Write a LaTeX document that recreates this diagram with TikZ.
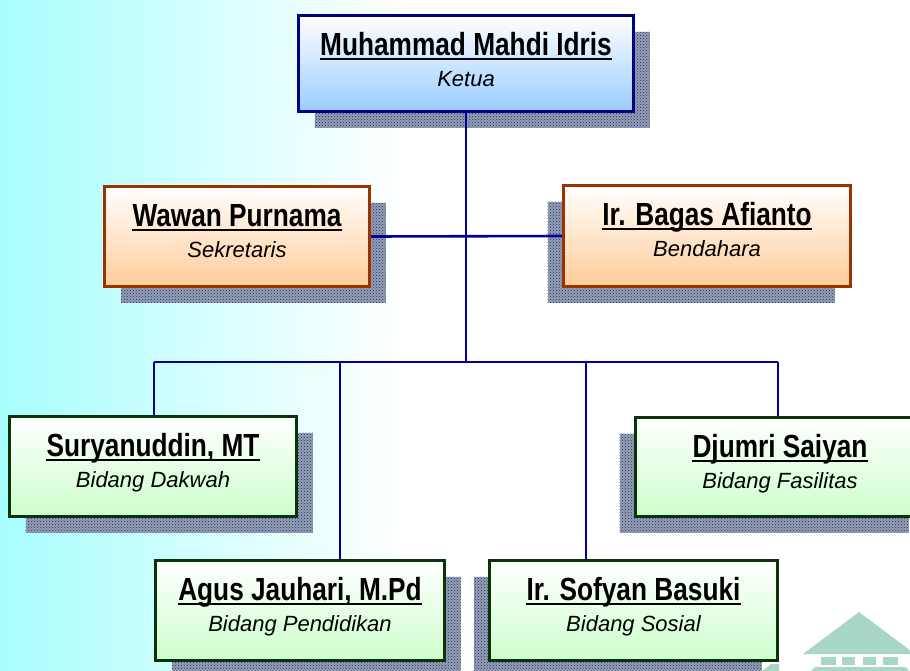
\documentclass[tikz,border=0pt]{standalone}
\usepackage{fontspec}
\setmainfont{Liberation Sans}
\newfontfamily\namefont{Liberation Sans}[FakeStretch=0.82]
\usetikzlibrary{calc,patterns}
\definecolor{navyline}{HTML}{000099}
\definecolor{topborder}{HTML}{000080}
\definecolor{topfill}{HTML}{99CCFF}
\definecolor{orgborder}{HTML}{993300}
\definecolor{orgfill}{HTML}{FFCC99}
\definecolor{grnborder}{HTML}{0A330A}
\definecolor{grnfill}{HTML}{CCFFCC}
\definecolor{shadbase}{HTML}{95A0B6}
\definecolor{shaddot}{HTML}{1E2C5C}
\definecolor{bgcyan}{HTML}{A8FEFE}
\definecolor{logoc}{HTML}{A8D6C8}
\pgfdeclarelayer{bgl}
\pgfdeclarelayer{shad}
\pgfdeclarelayer{conn}
\pgfsetlayers{bgl,shad,conn,main}
\tikzset{
  boxbase/.style={rectangle, line width=3pt, outer sep=0pt, inner sep=0pt},
  bluebox/.style={boxbase, draw=topborder, top color=white, bottom color=topfill},
  orangebox/.style={boxbase, draw=orgborder, top color=white, bottom color=orgfill},
  greenbox/.style={boxbase, draw=grnborder, top color=white, bottom color=grnfill},
  shadowfill/.style={fill=shadbase, postaction={pattern=crosshatch dots, pattern color=shaddot}},
  nametext/.style={anchor=base, inner sep=0pt, font=\namefont\bfseries\fontsize{32}{36}\selectfont},
  roletext/.style={anchor=base, inner sep=0pt, font=\itshape\fontsize{22}{26}\selectfont},
  uline/.style={line width=2.8pt, black},
  conline/.style={draw=navyline, line width=2.6pt},
}
% #1 id, #2 cx, #3 cy, #4 w, #5 h, #6 shadow dx, #7 style, #8 name, #9 role
\newcommand\OrgBox[9]{%
  \node[#7, minimum width=#4, minimum height=#5] (#1) at (#2,#3) {};
  \begin{pgfonlayer}{shad}
    \fill[shadowfill] ([shift={(#6,16)}]#1.south west) rectangle ([shift={(#6,16)}]#1.north east);
  \end{pgfonlayer}
  \node[nametext] (#1-n) at ($(#1.north)+(0,39.5)$) {#8};
  \draw[uline] ([yshift=-4pt]#1-n.base west) -- ([yshift=-4pt]#1-n.base east);
  \node[roletext] (#1-r) at ($(#1.north)+(0,70.5)$) {#9};
}
\begin{document}
\begin{tikzpicture}[x=1pt,y=-1pt]
\useasboundingbox (0,0) rectangle (910,670);
\clip (0,0) rectangle (910,670);
\begin{pgfonlayer}{bgl}
  \fill[white] (0,0) rectangle (910,670);
  \shade[left color=bgcyan, right color=white] (0,0) rectangle (400,670);
  % logo
  \fill[logoc] (803,654) -- (859,612) -- (915,654) -- cycle;
  \fill[logoc] (821,657) rectangle (836,665);
  \fill[logoc] (842,657) rectangle (855,665);
  \fill[logoc] (863,657) rectangle (876,665);
  \fill[logoc] (883,657) rectangle (898,665);
  \fill[logoc] (811,671) -- (815,667) -- (905,667) -- (909,671) -- cycle;
  \fill[logoc] (762,671) -- (771,664) -- (779,664) -- (779,671) -- cycle;
\end{pgfonlayer}

\OrgBox{top}{466}{63.5}{335}{96}{16}{bluebox}{Muhammad Mahdi Idris}{Ketua}
\OrgBox{wawan}{237}{236.5}{265}{100}{16}{orangebox}{Wawan Purnama}{Sekretaris}
\OrgBox{bagas}{707}{236}{287}{101}{-16}{orangebox}{Ir. Bagas Afianto}{Bendahara}
\OrgBox{sury}{153}{466.5}{287}{100}{16}{greenbox}{Suryanuddin, MT}{Bidang Dakwah}
\OrgBox{djumri}{780}{467}{289}{99}{-16}{greenbox}{Djumri Saiyan}{Bidang Fasilitas}
\OrgBox{agus}{300}{610.5}{289}{100}{16}{greenbox}{Agus Jauhari, M.Pd}{Bidang Pendidikan}
\OrgBox{sofyan}{633.5}{610.5}{288}{100}{-16}{greenbox}{Ir. Sofyan Basuki}{Bidang Sosial}

\coordinate (busC) at (466,362);
\coordinate (d1) at (154,362);
\coordinate (d2) at (340,362);
\coordinate (d3) at (586,362);
\coordinate (d4) at (778,362);
\begin{pgfonlayer}{conn}
  \draw[conline] (top.south) -- (busC);
  \draw[conline] (wawan.east) -- (bagas.west);
  \draw[conline] (d1) -- (d4);
  \draw[conline] (d1) -- (d1 |- sury.north);
  \draw[conline] (d2) -- (d2 |- agus.north);
  \draw[conline] (d3) -- (d3 |- sofyan.north);
  \draw[conline] (d4) -- (d4 |- djumri.north);
\end{pgfonlayer}
\end{tikzpicture}
\end{document}
